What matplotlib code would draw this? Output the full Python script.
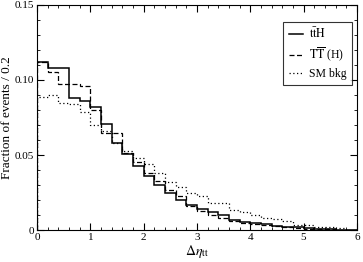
import numpy as np
import matplotlib
matplotlib.use("Agg")
import matplotlib.pyplot as plt
from matplotlib.ticker import MultipleLocator

plt.rcParams['font.family'] = ['Liberation Serif', 'DejaVu Serif']
plt.rcParams['mathtext.fontset'] = 'stix'

bin_width = 0.2
x_min, x_max = 0.0, 6.0

tth = [0.112, 0.108, 0.108, 0.088, 0.086, 0.082, 0.071, 0.058, 0.051, 0.043,
       0.036, 0.030, 0.025, 0.020, 0.017, 0.014, 0.012, 0.010, 0.007, 0.0055,
       0.005, 0.004, 0.003, 0.002, 0.002, 0.0015, 0.001, 0.0005, 0.0003, 0.0]
ttbar_h = [0.112, 0.1055, 0.097, 0.097, 0.096, 0.080, 0.0645, 0.0645, 0.0516, 0.0456,
           0.038, 0.033, 0.027, 0.023, 0.016, 0.013, 0.010, 0.008, 0.006, 0.0045,
           0.004, 0.0035, 0.003, 0.002, 0.0015, 0.001, 0.001, 0.0005, 0.0003, 0.0]
sm_bkg = [0.0885, 0.090, 0.0844, 0.084, 0.079, 0.070, 0.066, 0.058, 0.053, 0.048,
          0.044, 0.038, 0.032, 0.029, 0.0244, 0.023, 0.018, 0.018, 0.0133, 0.012,
          0.010, 0.0078, 0.0075, 0.006, 0.0033, 0.0033, 0.0022, 0.002, 0.0015, 0.0]

labels = [r'$\mathrm{t\bar{t}H}$', r'$\mathrm{T\overline{T}}$ (H)', 'SM bkg']

edges = np.linspace(x_min, x_max, len(tth) + 1)

fig = plt.figure(figsize=(3.63, 2.62), dpi=100)
ax = fig.add_axes([0.102, 0.122, 0.881, 0.859])

ax.stairs(tth, edges, color='black', lw=1.1, linestyle='-', label=labels[0])
ax.stairs(ttbar_h, edges, color='black', lw=0.9, linestyle=(0, (4, 2)), label=labels[1])
ax.stairs(sm_bkg, edges, color='black', lw=0.9, linestyle=(0, (1, 2)), label=labels[2])

ax.set_xlim(0, 6)
ax.set_ylim(0, 0.15)
ax.xaxis.set_major_locator(MultipleLocator(1))
ax.xaxis.set_minor_locator(MultipleLocator(0.2))
ax.yaxis.set_minor_locator(MultipleLocator(0.01))
ax.set_yticks([0, 0.05, 0.10, 0.15])
ax.set_yticklabels(['0', '0.05', '0.10', '0.15'])
ax.tick_params(which='both', direction='in', top=True, right=True, labelsize=8, pad=2)
ax.tick_params(which='major', length=5, width=0.8)
ax.tick_params(which='minor', length=2.5, width=0.6)
for s in ax.spines.values():
    s.set_linewidth(0.8)

ax.set_ylabel('Fraction of events / 0.2', fontsize=9.5)
ax.yaxis.set_label_coords(-0.076, 0.5)
ax.set_xlabel(r'$\Delta\eta_{\mathrm{tt}}$', fontsize=10, labelpad=1)

leg = ax.legend(loc='upper right', bbox_to_anchor=(0.984, 0.925), borderaxespad=0,
                fontsize=8.5, frameon=True, fancybox=False, edgecolor='black',
                handlelength=1.2, handletextpad=0.5, borderpad=0.45, labelspacing=0.35)
leg.get_frame().set_linewidth(0.8)

fig.savefig('out.png', dpi=100)
